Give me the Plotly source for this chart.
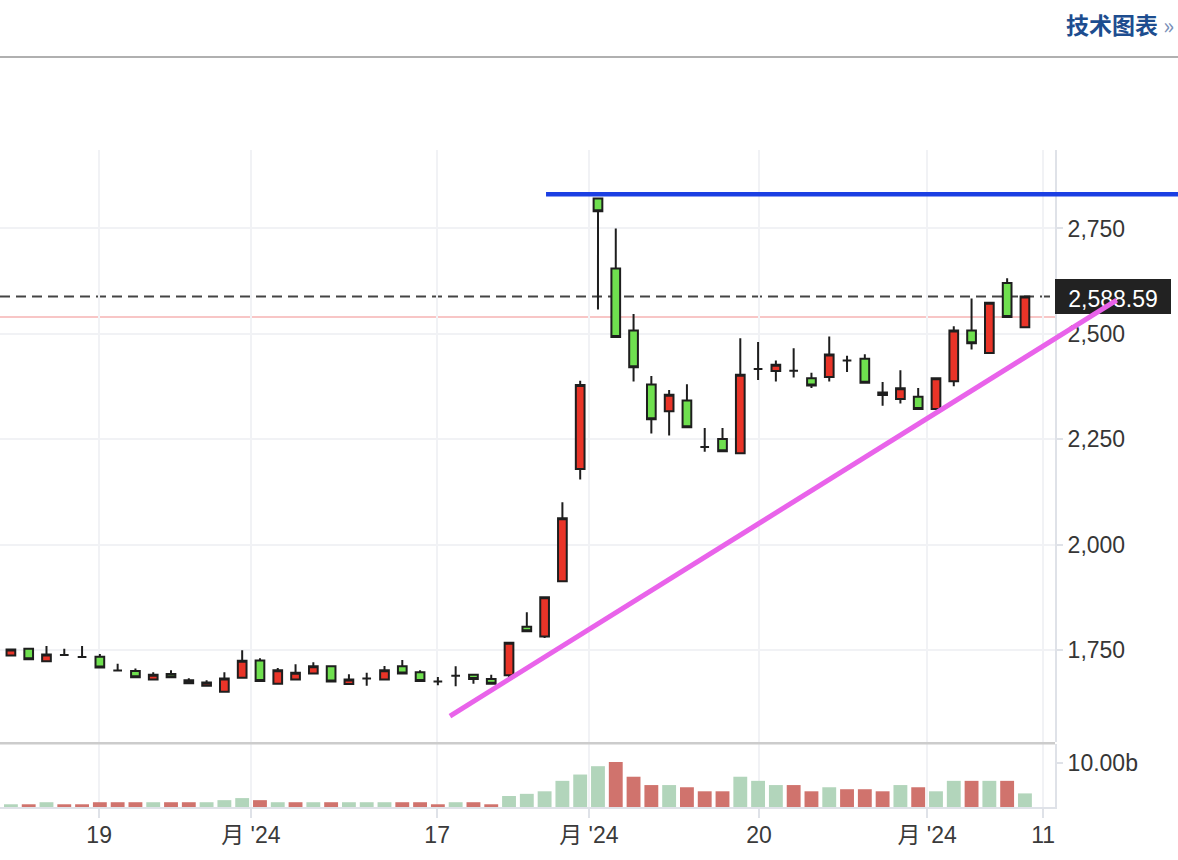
import plotly.graph_objects as go

# ---------------- data ----------------
open_ = [1738, 1754, 1724, 1739, 1734, 1735, 1702, 1701, 1681, 1694,
         1679, 1666, 1652, 1685, 1726, 1671, 1681, 1695, 1712, 1670,
         1683, 1681, 1712, 1698, 1676, 1690, 1692, 1682, 1691, 1806,
         1783, 1914, 2180, 2821, 2655, 2508, 2380, 2317, 2342, 2232,
         2251, 2217, 2417, 2412, 2413, 2395, 2398, 2437, 2441, 2361,
         2346, 2351, 2322, 2388, 2508, 2455, 2621, 2516]
high = [1753, 1755, 1760, 1754, 1760, 1741, 1718, 1707, 1698, 1703,
        1684, 1679, 1698, 1750, 1731, 1708, 1717, 1722, 1713, 1693,
        1697, 1713, 1727, 1703, 1687, 1712, 1692, 1692, 1769, 1840,
        1878, 2101, 2389, 2822, 2750, 2547, 2400, 2367, 2381, 2277,
        2277, 2490, 2481, 2437, 2466, 2408, 2494, 2448, 2452, 2386,
        2414, 2372, 2396, 2518, 2584, 2575, 2632, 2589]
low = [1737, 1728, 1723, 1739, 1734, 1709, 1702, 1686, 1681, 1686,
       1671, 1666, 1652, 1685, 1677, 1671, 1681, 1695, 1675, 1670,
       1666, 1681, 1695, 1676, 1667, 1665, 1671, 1671, 1683, 1795,
       1779, 1912, 2155, 2558, 2492, 2387, 2264, 2259, 2279, 2221,
       2222, 2216, 2391, 2387, 2397, 2372, 2387, 2410, 2384, 2330,
       2335, 2322, 2321, 2376, 2463, 2454, 2540, 2516]
close = [1752, 1729, 1740, 1739, 1734, 1709, 1702, 1686, 1692, 1686,
         1672, 1674, 1683, 1725, 1677, 1703, 1697, 1712, 1676, 1681,
         1683, 1703, 1695, 1677, 1676, 1690, 1682, 1671, 1768, 1795,
         1876, 2063, 2379, 2791, 2493, 2421, 2298, 2356, 2279, 2232,
         2222, 2403, 2417, 2427, 2413, 2378, 2451, 2437, 2384, 2355,
         2371, 2322, 2395, 2508, 2478, 2574, 2540, 2588.59]
volume_b = [0.62, 0.62, 1.09, 0.62, 0.62, 1.09, 1.09, 1.09, 1.09, 1.09,
            1.09, 1.09, 1.56, 2.03, 1.56, 1.09, 1.09, 1.09, 1.09, 1.09,
            1.09, 1.09, 1.09, 1.09, 0.62, 1.09, 1.09, 0.62, 2.50, 3.00,
            3.58, 5.96, 7.40, 9.30, 10.26, 6.90, 5.00, 5.00, 4.50, 3.58,
            3.58, 6.90, 5.96, 5.00, 5.00, 3.58, 4.50, 4.05, 4.05, 3.58,
            5.00, 4.50, 3.58, 5.96, 5.96, 5.96, 5.96, 3.10]

x_tick_pos = [4.96, 13.49, 23.96, 32.49, 42.05, 51.50, 58.02]
x_tick_text = ["19", "月 '24", "17", "月 '24", "20", "月 '24", "11"]
price_ticks = [1750, 2000, 2250, 2500, 2750]
vol_ticks = [10]
vol_tick_text = ["10.00b"]

last_price = 2588.59
prev_close = 2540
last_price_text = "2,588.59"
resistance_level = 2831
resistance_start = 30.08
trend_x = [24.68, 62.16]
trend_y = [1594, 2580]
header_text = "技术图表"

# ---------------- layout geometry ----------------
x_range = [-0.613, 58.69]
price_range = [1532, 2936]
vol_range = [0, 14.3]
price_dom = [0.0985, 1.0]
vol_dom = [0.0, 0.0955]
PLOT_W = 1055.0
PLOT_H = 656.7

n = len(close)
xs = list(range(n))


def paper_x(i):
    return (i - x_range[0]) / (x_range[1] - x_range[0])


def paper_y(v):
    return price_dom[0] + (v - price_range[0]) / (price_range[1] - price_range[0]) * (price_dom[1] - price_dom[0])


vol_colors = []
for k in range(n):
    ref = close[k - 1] if k > 0 else open_[k]
    vol_colors.append("#b2d5bb" if close[k] >= ref else "#d0736d")

FONT = "Liberation Sans, Arial, Noto Sans CJK SC, sans-serif"
AXIS_C = "#dfe2e8"
GRID_C = "#f1f2f5"

fig = go.Figure()
fig.add_trace(go.Candlestick(
    x=xs, open=open_, high=high, low=low, close=close,
    xaxis="x", yaxis="y",
    increasing=dict(fillcolor="#e93428", line=dict(color="#1e1e1e", width=2)),
    decreasing=dict(fillcolor="#6fe04f", line=dict(color="#1e1e1e", width=2)),
    whiskerwidth=0, hoverinfo="skip",
))
fig.add_trace(go.Bar(
    x=xs, y=volume_b, xaxis="x", yaxis="y2",
    marker=dict(color=vol_colors, line=dict(width=0)), hoverinfo="skip",
))

shapes = [
    dict(type="line", xref="paper", yref="y", x0=0, x1=1, y0=prev_close, y1=prev_close,
         line=dict(color="#f6b3b3", width=1.5), layer="between"),
    dict(type="line", xref="paper", yref="y", x0=0, x1=1, y0=last_price, y1=last_price,
         line=dict(color="#444444", width=2, dash="10px,6px"), layer="between"),
    dict(type="line", xref="paper", yref="paper", x0=0, x1=1,
         y0=(price_dom[0] + vol_dom[1]) / 2, y1=(price_dom[0] + vol_dom[1]) / 2,
         line=dict(color="#cccccc", width=2.5)),
    dict(type="line", xref="paper", yref="paper", x0=0, x1=1178 / PLOT_W,
         y0=(806.7 - 57) / PLOT_H, y1=(806.7 - 57) / PLOT_H,
         line=dict(color="#b0b0b0", width=2)),
    dict(type="rect", xref="paper", yref="paper",
         x0=1.0, x1=1.0 + 116 / PLOT_W,
         y0=paper_y(last_price) - 17.5 / PLOT_H, y1=paper_y(last_price) + 17.5 / PLOT_H,
         fillcolor="#222222", line=dict(width=0),
         label=dict(text=last_price_text, font=dict(color="white", size=23, family=FONT),
                    textposition="middle center")),
    dict(type="line", xref="paper", yref="paper",
         x0=paper_x(resistance_start), x1=1200 / PLOT_W,
         y0=paper_y(resistance_level), y1=paper_y(resistance_level),
         line=dict(color="#1b3fe3", width=4.5)),
    dict(type="line", xref="paper", yref="paper",
         x0=paper_x(trend_x[0]), x1=paper_x(trend_x[1]),
         y0=paper_y(trend_y[0]), y1=paper_y(trend_y[1]),
         line=dict(color="#e963ea", width=5)),
]

annotations = [
    dict(xref="paper", yref="paper", x=1176 / PLOT_W, y=(806.7 - 24) / PLOT_H,
         xanchor="right", yanchor="middle", showarrow=False,
         text="<b>" + header_text + "</b> <span style='color:#7a90b8'>»</span>",
         font=dict(family="Noto Sans CJK SC, sans-serif", size=23, color="#1d4d8f")),
]

fig.update_layout(
    width=1178, height=860,
    margin=dict(l=0, r=123, t=150, b=53.3, pad=0),
    paper_bgcolor="white", plot_bgcolor="white",
    font=dict(family=FONT, size=23, color="#363636"),
    showlegend=False, hovermode=False,
    boxgap=0.3, boxgroupgap=0.3, bargap=0.22,
    shapes=shapes, annotations=annotations,
    xaxis=dict(
        domain=[0, 1], anchor="y2", range=x_range,
        tickmode="array", tickvals=x_tick_pos, ticktext=x_tick_text,
        showgrid=True, gridcolor=GRID_C, gridwidth=2,
        ticks="outside", ticklen=9, tickwidth=2, tickcolor=AXIS_C,
        showline=True, linecolor=AXIS_C, linewidth=2,
        zeroline=False, rangeslider=dict(visible=False),
        tickfont=dict(size=23, color="#3a3a3a"), automargin=False,
        ticklabelstandoff=-3,
    ),
    yaxis=dict(
        domain=price_dom, anchor="x", side="right", range=price_range,
        tickmode="array", tickvals=price_ticks, tickformat=",d",
        showgrid=True, gridcolor=GRID_C, gridwidth=2,
        ticks="outside", ticklen=6, tickwidth=2, tickcolor=AXIS_C,
        showline=True, linecolor=AXIS_C, linewidth=2,
        zeroline=False, tickfont=dict(size=23, color="#363636"), automargin=False,
        ticklabelstandoff=0,
    ),
    yaxis2=dict(
        domain=vol_dom, anchor="x", side="right", range=vol_range,
        tickmode="array", tickvals=vol_ticks, ticktext=vol_tick_text,
        showgrid=False,
        ticks="outside", ticklen=6, tickwidth=2, tickcolor=AXIS_C,
        showline=True, linecolor=AXIS_C, linewidth=2,
        zeroline=False, tickfont=dict(size=23, color="#363636"), automargin=False,
        ticklabelstandoff=0,
    ),
)

fig.write_html(
    "out.html",
    config={"displayModeBar": False, "staticPlot": True},
    post_script="document.body.style.margin='0';document.body.style.padding='0';"
                "document.body.style.overflow='hidden';",
)
